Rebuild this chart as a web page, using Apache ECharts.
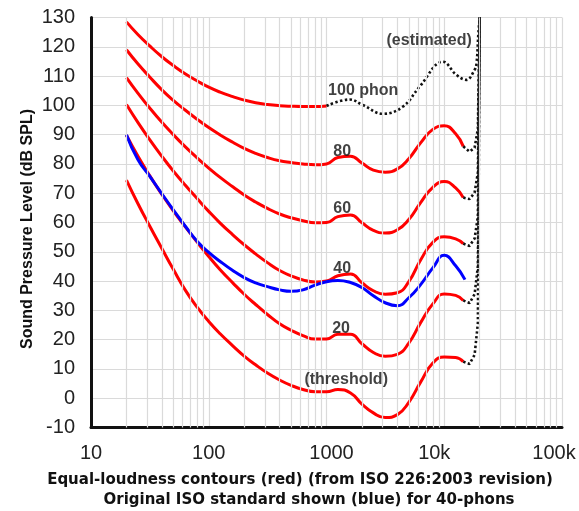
<!DOCTYPE html>
<html>
<head>
<meta charset="utf-8">
<script src="https://cdn.jsdelivr.net/npm/echarts@6/dist/echarts.min.js"></script>
<style>
  html, body { margin: 0; padding: 0; background: #fff; }
  #chart { width: 579px; height: 511px; }
</style>
</head>
<body>
<div id="chart"></div>
<script>
// frequencies (Hz) at which the contours are read
var freqs = [20, 25, 31.5, 40, 50, 63, 80, 100, 125, 160, 200, 250, 315, 400, 500, 630, 800, 1000,
  1250, 1600, 2000, 2500, 3150, 4000, 5000, 6300, 8000, 10000, 12500, 14500];

// equal-loudness contours, dB SPL (red)
var phon100 = [128.5, 124.2, 120.3, 116.6, 113.6, 110.8, 108.3, 106.2, 104.5, 103.0, 101.8, 100.9, 100.3, 99.9, 99.7, 99.6, 99.6, 99.8];
var phon80 = [119.0, 114.2, 109.7, 105.3, 101.7, 98.4, 95.2, 92.4, 89.9, 87.4, 85.3, 83.6, 82.2, 81.1, 80.5, 80.0, 79.7, 80.0,
  82.2, 82.6, 80.3, 77.9, 77.2, 78.3, 81.8, 87.2, 91.8, 93.0, 90.3, 86.0];
var phon60 = [109.5, 104.2, 99.1, 94.2, 90.0, 85.9, 82.0, 78.6, 75.4, 72.2, 69.4, 67.0, 64.8, 62.9, 61.6, 60.6, 59.9, 60.0,
  62.0, 62.6, 59.9, 57.3, 56.4, 57.5, 61.0, 66.8, 72.0, 74.0, 71.8, 68.5];
var phon40 = [100.3, 94.2, 88.3, 82.6, 77.6, 72.8, 68.1, 63.8, 59.8, 55.8, 52.4, 49.3, 46.3, 43.6, 41.8, 40.4, 39.7, 40.0,
  41.8, 42.4, 39.4, 36.7, 35.5, 36.0, 39.8, 47.2, 53.2, 55.1, 54.4, 52.8];
var phon20 = [89.8, 82.7, 76.0, 69.6, 64.0, 58.6, 53.2, 48.4, 43.9, 39.4, 35.5, 32.0, 28.6, 25.4, 23.2, 21.4, 20.2, 20.2,
  21.8, 21.8, 18.6, 15.6, 14.3, 15.0, 18.8, 25.8, 32.2, 35.6, 35.1, 33.4];
var threshold = [74.5, 66.5, 58.8, 51.1, 44.0, 37.0, 31.0, 26.2, 22.0, 17.9, 14.4, 11.4, 8.6, 6.2, 4.4, 3.0, 2.2, 2.2,
  3.0, 1.8, -2.0, -5.0, -6.6, -5.6, -1.4, 5.5, 12.0, 14.1, 13.9, 12.5];

// original ISO 40-phon contour (blue)
var blueFreqs = [20, 25, 31.5, 40, 50, 63, 80, 100, 125, 160, 200, 250, 315, 400, 500, 630, 800, 1000,
  1250, 1600, 2000, 2500, 3150, 4000, 5000, 6300, 8000, 10000, 12500, 15000];
var iso40 = [90.0, 81.5, 75.8, 69.8, 64.3, 58.8, 53.5, 49.8, 46.7, 43.6, 41.2, 39.4, 38.1, 37.0, 36.5, 37.0, 38.6, 39.8,
  40.2, 39.5, 37.8, 35.0, 32.6, 31.6, 34.3, 38.8, 44.5, 48.8, 45.2, 40.5];

// estimated (dotted) parts
var est100Freqs = [1000, 1570, 2040, 3020, 4470, 6180, 9750, 12670, 15400, 18100, 18800, 19500, 20000];
var est100 = [99.8, 102.0, 100.1, 97.1, 99.6, 106.4, 114.9, 110.4, 108.7, 112.1, 114.4, 124.6, 130];
var hookFreqs = [14500, 16400, 18100, 19300, 20000];
var hook80 = [86.0, 84.2, 85.5, 92.0, 130];
var hook60 = [68.5, 68.0, 70.2, 77.0, 130];
var hook40 = [52.8, 52.0, 54.5, 62.0, 130];
var hook20 = [33.4, 32.5, 35.5, 45.0, 130];
var hook0 = [12.5, 11.7, 14.8, 25.6, 130];

// curve labels
var labelTexts = ['100 phon', '80', '60', '40', '20', '(threshold)', '(estimated)'];
var labelFreqs = [2050, 1360, 1360, 1360, 1330, 1470, 7450];
var labelLevels = [104.9, 84.2, 64.9, 44.4, 23.9, 6.3, 122.1];

// minor vertical grid lines
var minorLines = [];
[10, 100, 1000, 10000].forEach(function (d) {
  for (var k = 2; k <= 9; k++) minorLines.push(k * d);
});

var font = "'Liberation Sans', Arial, Helvetica, sans-serif";

function pairs(xs, ys) {
  return ys.map(function (y, i) { return [xs[i], y]; });
}

function redLine(name, ys) {
  return {
    name: name, type: 'line', data: pairs(freqs, ys), smooth: 0.5,
    symbol: 'none', z: 3,
    lineStyle: { color: '#ff0000', width: 3 }
  };
}

function dotLine(name, xs, ys, sm) {
  return {
    name: name, type: 'line', data: pairs(xs, ys), smooth: sm,
    symbol: 'none', z: 3,
    lineStyle: { color: '#111', width: 2.6, type: [2.4, 2.4] }
  };
}

var chart = echarts.init(document.getElementById('chart'));

var option = {
  backgroundColor: '#fff',
  animation: false,
  textStyle: { fontFamily: font },
  grid: { left: 91, right: 17, top: 17.5, bottom: 83.5 },
  xAxis: {
    type: 'log', logBase: 10, min: 10, max: 100000,
    axisLine: { onZero: false, lineStyle: { color: '#111', width: 3 } },
    axisTick: { show: false },
    splitLine: { show: true, lineStyle: { color: '#dadada', width: 1.2 } },
    axisLabel: {
      margin: 16, color: '#222', fontSize: 20,
      formatter: function (v) {
        if (v === 10) return '{a|10}';
        if (v === 100) return '{a|100}';
        if (v === 1000) return '{b|1000}';
        if (v === 10000) return '{c|10k}';
        if (v === 100000) return '{d|100k}';
        return '';
      },
      rich: {
        a: { fontSize: 20, color: '#222', fontFamily: font },
        b: { fontSize: 20, color: '#222', fontFamily: font, padding: [0, 0, 0, 10] },
        c: { fontSize: 20, color: '#222', fontFamily: font, padding: [0, 20, 0, 0] },
        d: { fontSize: 20, color: '#222', fontFamily: font, padding: [0, 16, 0, 0] }
      }
    }
  },
  yAxis: {
    type: 'value', min: -10, max: 130, interval: 10,
    axisLine: { show: true, lineStyle: { color: '#111', width: 3 } },
    axisTick: { show: false },
    splitLine: { lineStyle: { color: '#dadada', width: 1.2 } },
    axisLabel: { margin: 16, color: '#222', fontSize: 20 }
  },
  graphic: [
    {
      type: 'text', x: 28, y: 229, rotation: Math.PI / 2,
      style: {
        text: 'Sound Pressure Level (dB SPL)', fill: '#111',
        font: 'bold 16px ' + font, align: 'center', verticalAlign: 'middle'
      }
    },
    {
      type: 'text', x: 300, y: 480,
      style: {
        text: 'Equal-loudness contours (red) (from ISO 226:2003 revision)', fill: '#111',
        font: "bold 15px 'DejaVu Sans', sans-serif", align: 'center', verticalAlign: 'middle'
      }
    },
    {
      type: 'text', x: 309, y: 500,
      style: {
        text: 'Original ISO standard shown (blue) for 40-phons', fill: '#111',
        font: "bold 15px 'DejaVu Sans', sans-serif", align: 'center', verticalAlign: 'middle'
      }
    }
  ],
  series: [
    {
      name: 'grid', type: 'line', data: [], z: 1, silent: true,
      markLine: {
        silent: true, symbol: 'none', animation: false,
        label: { show: false },
        lineStyle: { color: '#dadada', width: 1.2, type: 'solid' },
        data: minorLines.map(function (v) { return { xAxis: v }; })
      }
    },
    {
      name: '100 phon', type: 'line', data: pairs(freqs, phon100), smooth: 0.5,
      symbol: 'none', z: 3, lineStyle: { color: '#ff0000', width: 3 }
    },
    redLine('80 phon', phon80),
    redLine('60 phon', phon60),
    redLine('40 phon', phon40),
    redLine('20 phon', phon20),
    redLine('threshold', threshold),
    dotLine('100 est', est100Freqs, est100, 0.4),
    dotLine('80 est', hookFreqs, hook80, false),
    dotLine('60 est', hookFreqs, hook60, false),
    dotLine('40 est', hookFreqs, hook40, false),
    dotLine('20 est', hookFreqs, hook20, false),
    dotLine('0 est', hookFreqs, hook0, false),
    {
      name: 'ISO 40 (original)', type: 'line', data: pairs(blueFreqs, iso40), smooth: 0.5,
      symbol: 'none', z: 4, lineStyle: { color: '#0000ff', width: 3 }
    },
    {
      name: 'labels', type: 'scatter', z: 5, symbolSize: 0,
      data: labelTexts.map(function (t, i) { return [labelFreqs[i], labelLevels[i], t]; }),
      label: {
        show: true, position: 'inside', color: '#111', fontSize: 16, fontWeight: 'bold',
        fontFamily: font,
        formatter: function (p) { return p.data[2]; }
      }
    }
  ]
};

chart.setOption(option);
</script>
</body>
</html>
